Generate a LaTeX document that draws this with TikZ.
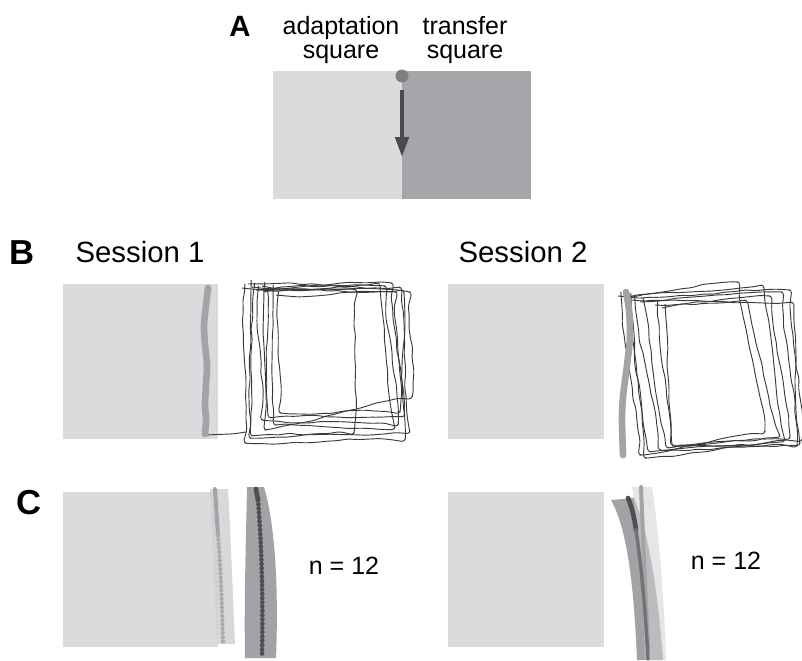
\documentclass[tikz,border=0pt]{standalone}
\usepackage{fontspec}
\setmainfont{Liberation Sans}
\usetikzlibrary{arrows.meta,calc,decorations.pathmorphing}
\definecolor{sqlight}{HTML}{DADBDD}
\definecolor{sqdark}{HTML}{A5A6A9}
\definecolor{dotc}{HTML}{808084}
\definecolor{arrowc}{HTML}{4A4A4C}
\definecolor{tracec}{HTML}{A3A4A7}
\definecolor{trajc}{HTML}{3A3A3A}
\definecolor{bandlight}{HTML}{D0D1D3}
\definecolor{banddark}{HTML}{A2A3A6}
\definecolor{dotdark}{HTML}{4F4F52}
\definecolor{dotlight}{HTML}{ABACAF}
\newcommand\wsq[9]{%
 \draw[traj] (#1,#2)
  .. controls ($(#1,#2)!0.33!(#3,#4)+(0,{1.2*(#9)})$) and ($(#1,#2)!0.67!(#3,#4)+(0,{-(#9)})$) .. (#3,#4)
  .. controls ($(#3,#4)!0.33!(#5,#6)+({-(#9)},0)$) and ($(#3,#4)!0.67!(#5,#6)+({1.3*(#9)},0)$) .. (#5,#6)
  .. controls ($(#5,#6)!0.33!(#7,#8)+(0,{-(#9)})$) and ($(#5,#6)!0.67!(#7,#8)+(0,{0.8*(#9)})$) .. (#7,#8)
  .. controls ($(#7,#8)!0.33!(#1,#2)+({1.2*(#9)},0)$) and ($(#7,#8)!0.67!(#1,#2)+({-(#9)},0)$) .. ($(#1,#2)+(3,-4)$);}
\newfontfamily\panelfont{Liberation Sans Bold}
\tikzset{
 lbl/.style={font=\fontsize{18.75}{18}\selectfont, inner sep=0pt, align=center},
 sess/.style={font=\fontsize{22}{25}\selectfont, inner sep=0pt},
 panel/.style={font=\panelfont\fontsize{26}{30}\selectfont, inner sep=0pt},
 traj/.style={draw=trajc, line width=0.7pt, line join=round, rounded corners=2.5pt,
   decorate, decoration={random steps, segment length=8pt, amplitude=0.7pt}},
 gtrace/.style={draw=tracec, line width=5pt, line cap=round},
 dots/.style={line cap=round, dash pattern=on 0pt off 3.2pt}
}
\begin{document}
\begin{tikzpicture}[x=0.75pt,y=-0.75pt]
\pgfmathsetseed{11}
\useasboundingbox (0,0) rectangle (802,660);
\clip (0,0) rectangle (802,660);
% ---------- Panel A
\node[panel, font=\panelfont\fontsize{22}{26}\selectfont] (labA) at (240,26) {A};
\node[lbl] (adapt) at (341,40) {adaptation\\square};
\node[lbl] (transf) at (465,40) {transfer\\square};
\fill[sqlight] (273,71) rectangle (402,199);
\fill[sqdark] (402,71) rectangle (531,199);
\node[circle, fill=dotc, minimum size=9.75pt, inner sep=0pt] (dot) at (402,76) {};
\coordinate (arrS) at (402,90);
\coordinate (arrE) at (402,157);
\draw[arrowc, line width=3pt, -{Triangle[length=15pt,width=10pt]}] (arrS) -- (arrE);
% ---------- Panel B
\node[panel] (labB) at (22,253) {B};
\node[sess] (s1) at (140,252.5) {Session 1};
\node[sess] (s2) at (523,252.5) {Session 2};
\fill[sqlight] (63,284) rectangle (218,439);
\fill[sqlight] (448,284) rectangle (604,439);
% session 1 trajectories
\draw[traj] (205,435) -- (230,434) -- (246,432);
\wsq{242}{288}{392}{283}{405}{440}{245}{443}{5}
\wsq{248}{284}{400}{287}{410}{432}{252}{436}{-4}
\wsq{256}{290}{385}{286}{398}{425}{262}{420}{4}
\wsq{264}{292}{402}{290}{405}{415}{270}{418}{-5}
\wsq{276}{295}{396}{292}{400}{412}{280}{413}{4}
\wsq{252}{287}{356}{290}{354}{433}{250}{438}{3}
\wsq{270}{289}{378}{283}{395}{428}{275}{425}{-3}
\wsq{262}{286}{410}{292}{412}{397}{265}{430}{4}
\draw[gtrace] plot[smooth] coordinates {(208,288) (206,305) (204,325) (205,345) (207,365) (206,385) (205,405) (206,420) (205,434)};
% session 2 trajectories
\wsq{618}{296}{738}{282}{765}{432}{640}{455}{4}
\wsq{625}{298}{762}{285}{785}{440}{650}{452}{-4}
\wsq{632}{300}{782}{292}{797}{446}{660}{450}{4}
\wsq{640}{302}{792}{302}{800}{444}{668}{448}{-4}
\wsq{655}{305}{770}{296}{790}{438}{672}{445}{3}
\wsq{662}{308}{745}{300}{780}{436}{674}{447}{-3}
\wsq{628}{297}{790}{290}{802}{440}{645}{458}{4}
\draw[gtrace] plot[smooth] coordinates {(626,292) (629,310) (630,337) (627,365) (623,397) (622,420) (623,455)};
% ---------- Panel C
\node[panel] (labC) at (29,503) {C};
\fill[sqlight] (63,492) rectangle (218,647);
\fill[sqlight] (448,492) rectangle (604,647);
% left, light trace
\fill[bandlight, opacity=0.85] (210,489) .. controls (212,540) and (215,600) .. (217,644) -- (235,644) .. controls (233,600) and (231,540) .. (228,489) -- cycle;
\draw[tracec, line width=3pt, line cap=round] (215,489) .. controls (216,505) and (217,520) .. (218,535);
\draw[dotlight, line width=3.2pt, dots] (218,535) .. controls (221,570) and (222,610) .. (223,643);
% left, dark trace
\fill[banddark] (247,487) .. controls (246,540) and (244,600) .. (245,658) -- (276,658) .. controls (279,580) and (274,520) .. (264,487) -- cycle;
\draw[dotdark, line width=3.5pt, line cap=round] (256,489) -- (258,500);
\draw[dotdark, line width=3.5pt, dots] (258,500) .. controls (262,550) and (263,600) .. (262,657);
\node[lbl] (n1) at (344,565.5) {n = 12};
% right
\fill[banddark] (611,500) -- (634,498) .. controls (648,530) and (658,590) .. (663,660) -- (637,660) .. controls (634,590) and (628,530) .. (611,500) -- cycle;
\fill[bandlight, opacity=0.55] (632,487) -- (652,487) .. controls (660,540) and (664,600) .. (666,660) -- (645,660) .. controls (643,600) and (640,540) .. (632,487) -- cycle;
\draw[tracec, line width=3pt, line cap=round] (641,487) .. controls (643,540) and (646,600) .. (648,650);
\draw[dotdark, line width=3.5pt, line cap=round] (628,498) .. controls (631,505) and (634,515) .. (636,530);
\draw[dotdark!80!white, line width=3pt, line cap=round, dash pattern=on 0pt off 2.2pt] (636,530) .. controls (642,570) and (646,620) .. (648,660);
\node[lbl] (n2) at (726,560.5) {n = 12};
\end{tikzpicture}
\end{document}
